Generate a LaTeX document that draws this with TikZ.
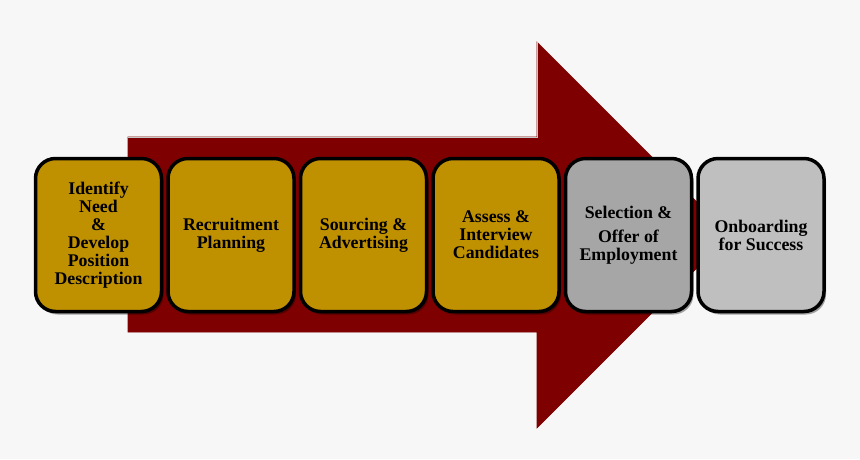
\documentclass[tikz,border=0pt]{standalone}
\usepackage{fontspec}
\setmainfont{Liberation Serif}
\usetikzlibrary{shadows}
\definecolor{bg}{HTML}{F7F7F7}
\definecolor{arrowred}{HTML}{7F0000}
\definecolor{gold}{HTML}{BF9000}
\definecolor{greyA}{HTML}{A6A6A6}
\definecolor{greyB}{HTML}{BFBFBF}
\begin{document}
\begin{tikzpicture}[x=1pt,y=-1pt,
  stepbox/.style={draw=black, line width=3.5pt, rounded corners=20pt,
    minimum width=126pt, minimum height=153pt, align=center,
    font=\fontsize{17.8}{18}\selectfont\bfseries,
    drop shadow={shadow xshift=2pt, shadow yshift=-3pt, opacity=0.35, fill=black}},
  goldbox/.style={stepbox, fill=gold},
  greyboxA/.style={stepbox, fill=greyA},
  greyboxB/.style={stepbox, fill=greyB}]
\fill[bg] (0,0) rectangle (860,459);
\useasboundingbox (0,0) rectangle (860,459);
% big arrow
\draw[arrowred, fill=arrowred, line width=0.6pt]
  (128,137) -- (537,137) -- (537,42) -- (730,235) -- (537,428) -- (537,332) -- (128,332) -- cycle;
\draw[gray!45, line width=0.4pt] (128,137) -- (537,137) -- (537,42);
% boxes
\node[goldbox] (b1) at (98.5,235) {Identify\\Need\\\&\\Develop\\Position\\Description};
\node[goldbox] (b2) at (231,235) {Recruitment\\Planning};
\node[goldbox] (b3) at (363.5,235) {Sourcing \&\\Advertising};
\node[goldbox] (b4) at (496,235) {Assess \&\\Interview\\Candidates};
\node[greyboxA] (b5) at (628.5,235) {Selection \&\\[6pt]Offer of\\Employment};
\node[greyboxB] (b6) at (761,235) {Onboarding\\for Success};
\end{tikzpicture}
\end{document}
